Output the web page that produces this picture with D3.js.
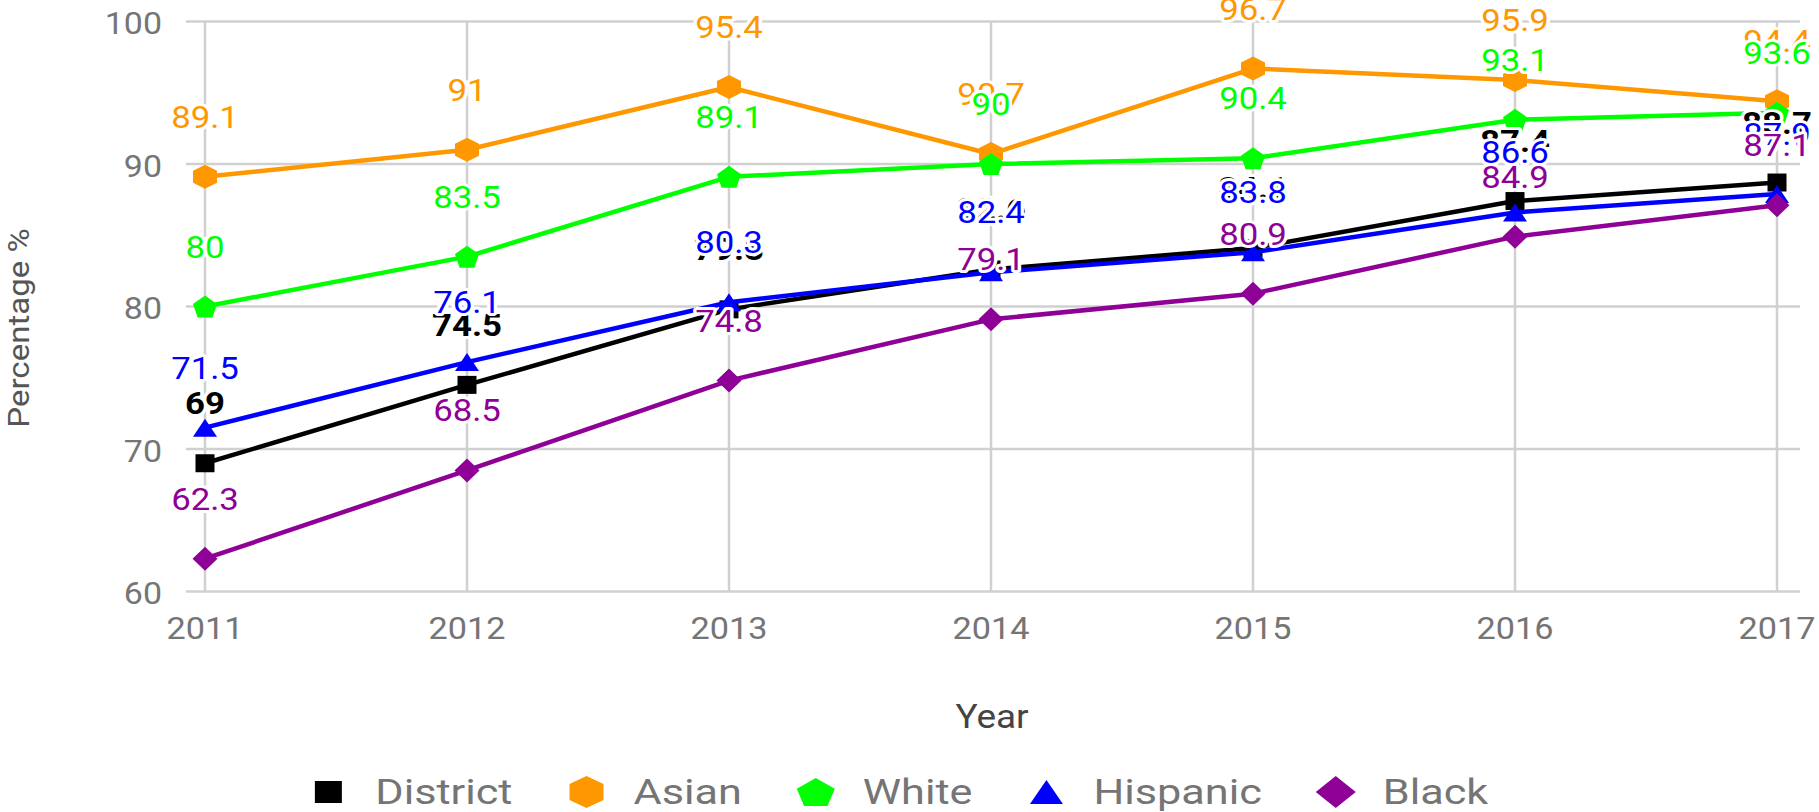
<!DOCTYPE html>
<html>
<head>
<meta charset="utf-8">
<script src="https://cdn.jsdelivr.net/npm/d3@7"></script>
<style>
  html, body { margin: 0; padding: 0; background: #fff; }
  svg { display: block; font-family: Roboto, "Noto Sans", sans-serif; }
</style>
</head>
<body>
<svg id="chart" width="1819" height="812"></svg>
<script>
// ---- data ----
const years = [2011, 2012, 2013, 2014, 2015, 2016, 2017];
const seriesNames = ["District", "Asian", "White", "Hispanic", "Black"];
const district = [69, 74.5, 79.8, 82.6, 84.1, 87.4, 88.7];
const asian    = [89.1, 91, 95.4, 90.7, 96.7, 95.9, 94.4];
const white    = [80, 83.5, 89.1, 90, 90.4, 93.1, 93.6];
const hispanic = [71.5, 76.1, 80.3, 82.4, 83.8, 86.6, 87.9];
const black    = [62.3, 68.5, 74.8, 79.1, 80.9, 84.9, 87.1];
const yTicks = [60, 70, 80, 90, 100];
const xTitle = "Year";
const yTitle = "Percentage %";

// ---- styling ----
const colors  = ["#000000", "#ff9800", "#00ff00", "#0000ff", "#8e0096"];
const shapes  = ["square", "hexagon", "pentagon", "triangle", "diamond"];
const mSize   = [[19, 18], [24, 24], [24, 22], [24, 18], [25, 24]];
const lSize   = [[27, 22], [34, 32], [38, 28], [33, 24], [40, 32]];
const bold    = [true, false, false, false, false];
const values  = [district, asian, white, hispanic, black];

const svg = d3.select("#chart");

const x = d3.scalePoint().domain(years).range([205, 1777]);
const y = d3.scaleLinear().domain([60, 100]).range([591.5, 21.5]);

function polyPoints(type) {
  let pts;
  if (type === "square") pts = [[-1,-1],[1,-1],[1,1],[-1,1]];
  else if (type === "diamond") pts = [[0,-1],[1,0],[0,1],[-1,0]];
  else if (type === "triangle") pts = [[0,-1],[1,1],[-1,1]];
  else {
    const n = type === "hexagon" ? 6 : 5;
    pts = d3.range(n).map(i => {
      const a = -Math.PI / 2 + i * 2 * Math.PI / n;
      return [Math.cos(a), Math.sin(a)];
    });
  }
  return pts;
}
function markerPath(type, w, h) {
  const pts = polyPoints(type);
  const xs = pts.map(p => p[0]), ys = pts.map(p => p[1]);
  const x0 = d3.min(xs), x1 = d3.max(xs), y0 = d3.min(ys), y1 = d3.max(ys);
  const sp = pts.map(p => [
    ((p[0] - x0) / (x1 - x0) - 0.5) * w,
    ((p[1] - y0) / (y1 - y0) - 0.5) * h
  ]);
  return "M" + sp.map(p => p[0].toFixed(2) + "," + p[1].toFixed(2)).join("L") + "Z";
}

// ---- grid ----
const grid = svg.append("g");
grid.selectAll("line.h").data(yTicks).enter().append("line")
  .attr("x1", 186).attr("x2", 1800)
  .attr("y1", d => y(d)).attr("y2", d => y(d))
  .attr("stroke", "#d0d0d0").attr("stroke-width", 2.5);
grid.selectAll("line.v").data(years).enter().append("line")
  .attr("x1", d => x(d)).attr("x2", d => x(d))
  .attr("y1", y(100)).attr("y2", y(60))
  .attr("stroke", "#d0d0d0").attr("stroke-width", 2.5);

// ---- axis tick labels ----
const tickColor = "#757575";
svg.append("g").selectAll("g").data(yTicks).enter().append("g")
  .attr("transform", d => `translate(162,${y(d) + 12.5}) scale(1.06,1)`)
  .append("text")
  .attr("text-anchor", "end").attr("font-size", 32).attr("fill", tickColor)
  .text(d => d);
svg.append("g").selectAll("g").data(years).enter().append("g")
  .attr("transform", d => `translate(${x(d)},639) scale(1.07,1)`)
  .append("text")
  .attr("text-anchor", "middle").attr("font-size", 32).attr("fill", tickColor)
  .text(d => d);

// ---- axis titles ----
svg.append("g").attr("transform", "translate(992,728) scale(1.12,1)")
  .append("text").attr("text-anchor", "middle").attr("font-size", 33)
  .attr("fill", "#444").text(xTitle);
svg.append("g").attr("transform", "translate(29,328) rotate(-90) scale(1.14,1)")
  .append("text").attr("text-anchor", "middle").attr("font-size", 29)
  .attr("fill", "#555").text(yTitle);

// ---- lines & markers ----
const line = d3.line().x((d, i) => x(years[i])).y(d => y(d));
const linesG = svg.append("g");
seriesNames.forEach((name, s) => {
  const g = linesG.append("g");
  g.append("path").datum(values[s]).attr("d", line)
    .attr("fill", "none").attr("stroke", colors[s]).attr("stroke-width", 4.5)
    .attr("stroke-linejoin", "round");
  g.selectAll("path.m").data(values[s]).enter().append("path")
    .attr("transform", (d, i) => `translate(${x(years[i])},${y(d)})`)
    .attr("d", markerPath(shapes[s], mSize[s][0], mSize[s][1]))
    .attr("fill", colors[s]);
});

// ---- data labels ----
const labelsG = svg.append("g");
seriesNames.forEach((name, s) => {
  labelsG.append("g").selectAll("g").data(values[s]).enter().append("g")
    .attr("transform", (d, i) => `translate(${x(years[i])},${y(d) - 49}) scale(1.14,1)`)
    .append("text")
    .attr("text-anchor", "middle").attr("font-size", 30.5)
    .attr("font-weight", bold[s] ? "bold" : "normal")
    .attr("fill", colors[s])
    .attr("stroke", "#fff").attr("stroke-width", 6)
    .attr("stroke-linejoin", "round").attr("paint-order", "stroke")
    .text(d => d);
});

// ---- legend ----
const legend = svg.append("g");
const legSx = 1.2, legFont = 36, legY = 792, legBase = 804;
let cx = 0;
const items = [];
seriesNames.forEach((name, s) => {
  const item = legend.append("g");
  item.append("path")
    .attr("transform", `translate(${cx},${legY})`)
    .attr("d", markerPath(shapes[s], lSize[s][0], lSize[s][1]))
    .attr("fill", colors[s]);
  const tg = item.append("g").attr("transform", `translate(${cx + 47},${legBase}) scale(${legSx},1)`);
  const t = tg.append("text").attr("font-size", legFont).attr("fill", "#757575").text(name);
  const tw = t.node().getComputedTextLength() * legSx;
  items.push({ left: cx - lSize[s][0] / 2, right: cx + 47 + tw });
  cx = cx + 47 + tw + 74;
});
const lLeft = items[0].left, lRight = items[items.length - 1].right;
const shift = 901.5 - (lLeft + lRight) / 2;
legend.attr("transform", `translate(${shift},0)`);
</script>
</body>
</html>
